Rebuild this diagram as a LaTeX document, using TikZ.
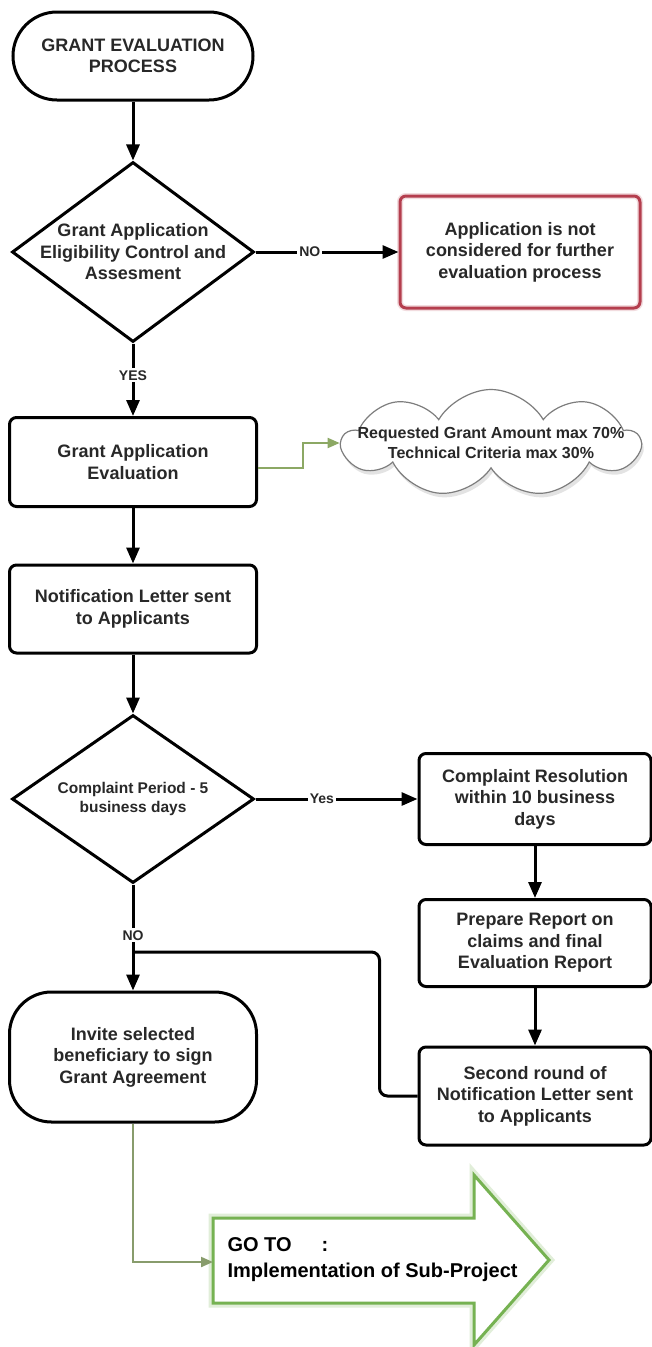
\documentclass[tikz,border=0pt]{standalone}
\usepackage{fontspec}
\setmainfont{Liberation Sans}
\usetikzlibrary{arrows.meta,positioning,shapes.geometric,shapes.symbols,shadows}
\definecolor{ink}{RGB}{40,40,40}
\definecolor{rejectred}{RGB}{180,62,78}
\definecolor{linkgreen}{RGB}{140,168,100}
\definecolor{gogreen}{RGB}{118,178,82}
\definecolor{cloudgray}{RGB}{125,125,125}

\begin{document}
\begin{tikzpicture}[x=1pt, y=-1pt,
  every node/.style={font=\bfseries\fontsize{18}{21.5}\selectfont, text=ink},
  term/.style={draw, line width=3pt, rounded corners=44pt, minimum width=240pt, minimum height=88pt, align=center},
  proc/.style={draw, line width=3pt, rounded corners=7pt, minimum width=247pt, align=center},
  decision/.style={diamond, draw, line width=3pt, inner sep=0pt, minimum width=242pt},
  dtext/.style={align=center},
  rejectbox/.style={proc, draw=rejectred, minimum width=240pt, minimum height=112pt, rounded corners=6pt, preaction={draw=rejectred!18, line width=6pt}},
  cloudnode/.style={cloud, draw=cloudgray, line width=1.2pt, fill=white, cloud puffs=9, cloud puff arc=120, cloud ignores aspect, minimum width=297pt, minimum height=107pt, inner sep=0pt, drop shadow={opacity=0.22, shadow xshift=2pt, shadow yshift=-4pt}},
  arr/.style={-{Triangle[length=16pt,width=13pt]}, line width=3pt},
  lbl/.style={fill=white, inner sep=2pt, font=\bfseries\fontsize{14}{16}\selectfont},
  glink/.style={-{Triangle[length=12pt,width=10pt]}, line width=2pt, linkgreen},
  bigarrow/.style={draw=gogreen, line width=3pt, fill=white, line join=miter, preaction={draw=gogreen!22, line width=9pt}},
]
\useasboundingbox (0,0) rectangle (652,1347);
\clip (0,0) rectangle (652,1347);
\fill[white] (0,0) rectangle (652,1347);

% left column
\node[term] (start) at (133,56) {GRANT EVALUATION\\PROCESS};
\node[decision, minimum height=180pt] (elig) at (133,252) {};
\node[dtext] (eligtxt) at (elig) {Grant Application\\Eligibility Control and\\Assesment};
\node[proc, minimum height=89pt] (eval) at (133,462) {Grant Application\\Evaluation};
\node[proc, minimum height=88pt] (notify) at (133,609) {Notification Letter sent\\to Applicants};
\node[decision, minimum height=168pt] (period) at (133,799) {};
\node[dtext, font=\bfseries\fontsize{15.5}{18.5}\selectfont] (periodtxt) at (period) {Complaint Period - 5\\business days};
\node[proc, rounded corners=42pt, minimum height=130pt] (invite) at (133,1057) {Invite selected\\beneficiary to sign\\Grant Agreement};

% right column
\node[rejectbox] (reject) at (520,252) {Application is not\\considered for further\\evaluation process};
\node[cloudnode] (crit) at (491,443) {};
\node[dtext, font=\bfseries\fontsize{16}{19.5}\selectfont] (crittxt) at (crit) {Requested Grant Amount max 70\%\\Technical Criteria max 30\%};
\node[proc, minimum width=232pt, minimum height=91pt] (resolve) at (535,799) {Complaint Resolution\\within 10 business\\days};
\node[proc, minimum width=232pt, minimum height=87pt] (report) at (535,943) {Prepare Report on\\claims and final\\Evaluation Report};
\node[proc, minimum width=232pt, minimum height=98pt] (second) at (535,1096) {Second round of\\Notification Letter sent\\to Applicants};

% go-to arrow
\draw[bigarrow] (213,1218) -- (474,1218) -- (474,1175) -- (549,1260) -- (474,1345) -- (474,1303) -- (213,1303) -- cycle;
\coordinate (gotoin) at (213,1262);
\node[anchor=west, align=left, text=black, font=\bfseries\fontsize{20}{26}\selectfont] (gototxt) at (224,1260) {GO TO\hspace{30pt}:\\Implementation of Sub-Project};

% connectors
\draw[arr] (start) -- (elig);
\draw[arr] (elig) -- node[lbl, pos=0.38] {NO} (reject);
\draw[arr] (elig) -- node[lbl, pos=0.44] {YES} (eval);
\draw[glink] ([yshift=-6pt]eval.east) -- ++(45,0) |- (crit.west);
\draw[arr] (eval) -- (notify);
\draw[arr] (notify) -- (period);
\draw[arr] (period) -- node[lbl, pos=0.41] {Yes} (resolve);
\draw[arr] (resolve) -- (report);
\draw[arr] (report) -- (second);
\draw[arr] (period) -- node[lbl, pos=0.48] {NO} (invite);
\coordinate (merge) at (133,952);
\draw[line width=3pt, rounded corners=8pt] (second.west) -- ++(-38,0) |- (merge);
\draw[glink, draw=linkgreen!70!gray] (invite) |- (gotoin);
\end{tikzpicture}
\end{document}
